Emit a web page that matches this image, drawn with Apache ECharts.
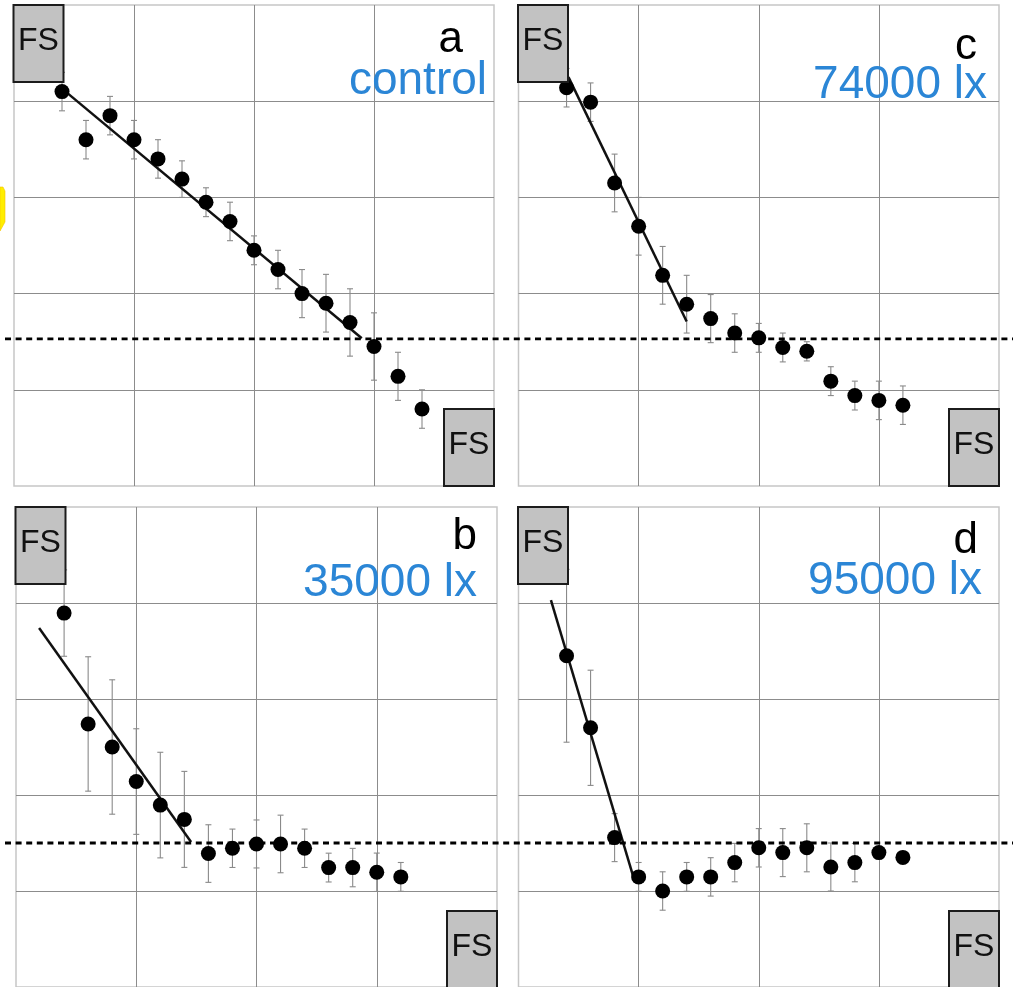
<!DOCTYPE html>
<html>
<head>
<meta charset="utf-8">
<script src="https://cdn.jsdelivr.net/npm/echarts@6/dist/echarts.min.js"></script>
<style>
html,body{margin:0;padding:0;background:#fff;}
#chart{width:1013px;height:987px;}
</style>
</head>
<body>
<div id="chart"></div>
<script>
// ---- data (x = step index, y = value in grid units) ----
const xA = [2,3,4,5,6,7,8,9,10,11,12,13,14,15,16,17];
const yA = [4.10,3.60,3.85,3.60,3.40,3.19,2.95,2.75,2.45,2.25,2.00,1.90,1.70,1.45,1.14,0.80];
const eA = [0.20,0.20,0.20,0.20,0.20,0.19,0.15,0.20,0.15,0.20,0.25,0.30,0.35,0.35,0.25,0.20];
const fitA = [[2.05,4.12],[14.49,1.535]];

const xC = [2,3,4,5,6,7,8,9,10,11,12,13,14,15,16];
const yC = [4.14,3.99,3.15,2.70,2.19,1.89,1.74,1.59,1.54,1.44,1.40,1.09,0.94,0.89,0.84];
const eC = [0.20,0.20,0.30,0.30,0.30,0.30,0.25,0.20,0.15,0.15,0.10,0.15,0.15,0.20,0.20];
const fitC = [[2.08,4.25],[7.0,1.71]];

const xB = [2,3,4,5,6,7,8,9,10,11,12,13,14,15,16];
const yB = [3.895,2.74,2.50,2.14,1.895,1.746,1.39,1.445,1.49,1.49,1.445,1.244,1.244,1.195,1.147];
const eB = [0.45,0.70,0.70,0.55,0.55,0.50,0.30,0.20,0.25,0.30,0.20,0.15,0.20,0.20,0.15];
const fitB = [[0.96,3.74],[7.28,1.51]];

const xD = [2,3,4,5,6,7,8,9,10,11,12,13,14,15,16];
const yD = [3.45,2.70,1.556,1.147,1.00,1.147,1.147,1.296,1.45,1.40,1.45,1.25,1.296,1.40,1.35];
const eD = [0.90,0.60,0.25,0.15,0.20,0.15,0.20,0.20,0.20,0.25,0.25,0.25,0.20,0.04,0.04];
const fitD = [[1.35,4.03],[4.78,1.147]];

const dashTop = 1.53;
const dashBottom = 1.50;

const letters = ['a','c','b','d'];
const conditions = ['control','74000 lx','35000 lx','95000 lx'];
const boxLabel = 'FS';

// axis ticks
const xMin = 0, xMax = 20, xStep = 5;
const yMin = 0, yMax = 5, yStep = 1;

// ---- layout ----
const panels = [
  {left:14,   top:5,   width:480,   height:481, xs:xA, ys:yA, es:eA, fit:fitA, dash:dashTop},
  {left:518.5,top:5,   width:480.5, height:481, xs:xC, ys:yC, es:eC, fit:fitC, dash:null},
  {left:16,   top:507, width:481,   height:481, xs:xB, ys:yB, es:eB, fit:fitB, dash:dashBottom},
  {left:518.5,top:507, width:480.5, height:481, xs:xD, ys:yD, es:eD, fit:fitD, dash:null}
];
const labelPos = [
  {lx:463, ly:40, cx:487, cy:81},
  {lx:977, ly:47, cx:987, cy:85},
  {lx:477, ly:537, cx:477, cy:583},
  {lx:978, ly:541, cx:982, cy:581}
];

const BLUE = '#2b86d6';
const FONT = '"Liberation Sans", Arial, Helvetica, sans-serif';

const grids = [], xAxes = [], yAxes = [], series = [], graphics = [];

panels.forEach((p, i) => {
  grids.push({left:p.left, top:p.top, width:p.width, height:p.height,
    show:true, borderColor:'#c6c6c6', borderWidth:1.5, backgroundColor:'transparent'});
  const splitLine = {show:true, showMinLine:false, showMaxLine:false,
    lineStyle:{color:'#8c8c8c', width:1}};
  xAxes.push({type:'value', gridIndex:i, min:xMin, max:xMax, interval:xStep,
    axisLine:{show:false}, axisTick:{show:false}, axisLabel:{show:false}, splitLine});
  yAxes.push({type:'value', gridIndex:i, min:yMin, max:yMax, interval:yStep,
    axisLine:{show:false}, axisTick:{show:false}, axisLabel:{show:false}, splitLine});

  // error bars
  series.push({
    type:'custom', xAxisIndex:i, yAxisIndex:i, z:2, clip:false,
    data: p.xs.map((x, k) => [x, p.ys[k] - p.es[k], p.ys[k] + p.es[k]]),
    renderItem: (params, api) => {
      const lo = api.coord([api.value(0), api.value(1)]);
      const hi = api.coord([api.value(0), api.value(2)]);
      const cw = 3;
      const st = {stroke:'#8a8a8a', lineWidth:1.1};
      return {type:'group', children:[
        {type:'line', shape:{x1:lo[0], y1:lo[1], x2:hi[0], y2:hi[1]}, style:st},
        {type:'line', shape:{x1:lo[0]-cw, y1:lo[1], x2:lo[0]+cw, y2:lo[1]}, style:st},
        {type:'line', shape:{x1:hi[0]-cw, y1:hi[1], x2:hi[0]+cw, y2:hi[1]}, style:st}
      ]};
    }
  });
  // fit line
  series.push({type:'line', xAxisIndex:i, yAxisIndex:i, data:p.fit, symbol:'none', z:3,
    lineStyle:{color:'#111', width:2.5}, silent:true});
  // points
  series.push({type:'scatter', xAxisIndex:i, yAxisIndex:i, z:4,
    data:p.xs.map((x, k) => [x, p.ys[k]]), symbol:'circle', symbolSize:15,
    itemStyle:{color:'#000', opacity:1}});
  // dashed reference line across the row
  if (p.dash !== null) {
    series.push({type:'custom', xAxisIndex:i, yAxisIndex:i, z:5, clip:false,
      data:[[xMin, p.dash]],
      renderItem: (params, api) => {
        const c = api.coord([api.value(0), api.value(1)]);
        return {type:'line', shape:{x1:5, y1:c[1], x2:api.getWidth(), y2:c[1]},
          style:{stroke:'#000', lineWidth:2.8, lineDash:[6,4.6]}};
      }});
  }

  // FS boxes (top-left and bottom-right corners)
  const bw = 50, bh = 77;
  const boxes = [
    {x:p.left - 0.5, y:p.top},
    {x:p.left + p.width - bw, y:p.top + p.height - bh}
  ];
  boxes.forEach(b => {
    graphics.push({type:'rect', z:100, shape:{x:b.x, y:b.y, width:bw, height:bh},
      style:{fill:'#c2c2c2', stroke:'#1c1c1c', lineWidth:2}});
    graphics.push({type:'text', z:101, style:{x:b.x + bw/2, y:b.y + bh/2 - 2, text:boxLabel,
      fill:'#111', font:'32px ' + FONT, align:'center', verticalAlign:'middle'}});
  });

  // panel letter and condition label
  const lp = labelPos[i];
  graphics.push({type:'text', z:100, style:{x:lp.lx, y:lp.ly, text:letters[i],
    fill:'#000', font:'44px ' + FONT, align:'right', verticalAlign:'middle'}});
  graphics.push({type:'text', z:100, style:{x:lp.cx, y:lp.cy, text:conditions[i],
    fill:BLUE, font:'46px ' + FONT, align:'right', verticalAlign:'middle'}});
});

// small yellow fragment at the left edge
graphics.push({type:'polygon', z:100, shape:{points:[[0,187],[3,187],[5,191],[5,222],[0,231]]},
  style:{fill:'#ffee00', stroke:'#f5c400', lineWidth:0.6}});

const chart = echarts.init(document.getElementById('chart'), null, {renderer:'canvas'});
chart.setOption({
  animation:false,
  backgroundColor:'#fff',
  grid:grids, xAxis:xAxes, yAxis:yAxes, series, graphic:graphics
});
</script>
</body>
</html>
